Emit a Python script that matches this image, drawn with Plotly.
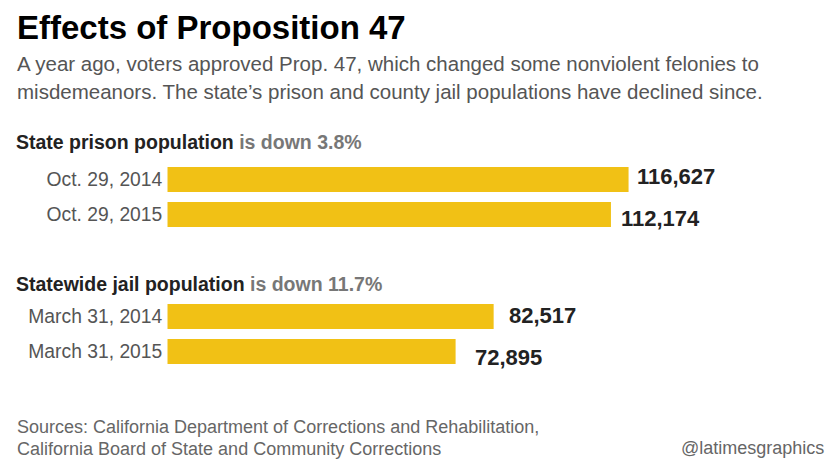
import plotly.graph_objects as go

# ---- data ----
prison_dates = ["Oct. 29, 2014", "Oct. 29, 2015"]
prison_values = [116627, 112174]
jail_dates = ["March 31, 2014", "March 31, 2015"]
jail_values = [82517, 72895]

title = "Effects of Proposition 47"
subtitle_lines = [
    "A year ago, voters approved Prop. 47, which changed some nonviolent felonies to",
    "misdemeanors. The state\u2019s prison and county jail populations have declined since.",
]
prison_head = ("State prison population", " is down 3.8%")
jail_head = ("Statewide jail population", " is down 11.7%")
source_lines = [
    "Sources: California Department of Corrections and Rehabilitation,",
    "California Board of State and Community Corrections",
]
credit = "@latimesgraphics"

W, H = 840, 472
BAR = "#F1C115"
FONT = "Liberation Sans"


def py(p):
    return 1 - p / H


fig = go.Figure()
fig.add_trace(go.Bar(y=prison_dates, x=prison_values, orientation="h",
                     marker=dict(color=BAR, line=dict(width=0)), width=0.714,
                     xaxis="x", yaxis="y", hoverinfo="x+y"))
fig.add_trace(go.Bar(y=jail_dates, x=jail_values, orientation="h",
                     marker=dict(color=BAR, line=dict(width=0)), width=0.714,
                     xaxis="x2", yaxis="y2", hoverinfo="x+y"))

x0 = 167.3 / W
px_per_unit = 0.003955
xmax = 150000
x1 = (167.3 + xmax * px_per_unit) / W

xa = dict(range=[0, xmax], domain=[x0, x1], visible=False, fixedrange=True)
ya_common = dict(range=[1.5, -0.5], showgrid=False, zeroline=False, showline=False,
                 ticks="", ticklabelstandoff=4,
                 tickfont=dict(family=FONT, size=19.3, color="#555555"), fixedrange=True)

fig.update_layout(
    width=W, height=H,
    margin=dict(l=0, r=0, t=0, b=0),
    paper_bgcolor="white", plot_bgcolor="white",
    showlegend=False,
    font=dict(family=FONT),
    xaxis=xa,
    xaxis2=dict(xa, anchor="y2"),
    yaxis=dict(ya_common, domain=[py(232), py(162)], anchor="x"),
    yaxis2=dict(ya_common, domain=[py(369), py(299)], anchor="x2"),
)

ann = []
# value labels (offsets mimic the reference's hand placement)
label_shift = [(6, 3.5), (8, -3.5), (13, 1.5), (17, -6)]
vals = [("x", "y", prison_dates[i], prison_values[i]) for i in range(2)] + \
       [("x2", "y2", jail_dates[i], jail_values[i]) for i in range(2)]
for (xr, yr, cat, v), (dx, dy) in zip(vals, label_shift):
    ann.append(dict(xref=xr, yref=yr, x=v, y=cat, text=f"<b>{v:,}</b>", showarrow=False,
                    xanchor="left", yanchor="middle", xshift=dx, yshift=dy,
                    font=dict(family=FONT, size=22, color="#222222")))

# title
ann.append(dict(xref="paper", yref="paper", x=15 / W, y=py(28), text=f"<b>{title}</b>",
                showarrow=False, xanchor="left", yanchor="middle",
                font=dict(family=FONT, size=33, color="#000000")))
for i, line in enumerate(subtitle_lines):
    ann.append(dict(xref="paper", yref="paper", x=15 / W, y=py(64 + 27 * i), text=line,
                    showarrow=False, xanchor="left", yanchor="middle",
                    font=dict(family=FONT, size=20.5, color="#555555")))
for head, ycen in ((prison_head, 142), (jail_head, 284)):
    ann.append(dict(xref="paper", yref="paper", x=14 / W, y=py(ycen),
                    text=f"<b>{head[0]}</b><b><span style='color:#777777'>{head[1]}</span></b>",
                    showarrow=False, xanchor="left", yanchor="middle",
                    font=dict(family=FONT, size=19.5, color="#222222")))
for i, line in enumerate(source_lines):
    ann.append(dict(xref="paper", yref="paper", x=15 / W, y=py(427 + 22 * i), text=line,
                    showarrow=False, xanchor="left", yanchor="middle",
                    font=dict(family=FONT, size=18, color="#666666")))
ann.append(dict(xref="paper", yref="paper", x=826 / W, y=py(448), text=credit,
                showarrow=False, xanchor="right", yanchor="middle",
                font=dict(family=FONT, size=18, color="#666666")))

fig.update_layout(annotations=ann)
fig.write_html("out.html", config={"displayModeBar": False},
               post_script="document.body.style.margin='0';document.body.style.padding='0';"
                           "document.body.style.overflow='hidden';")
